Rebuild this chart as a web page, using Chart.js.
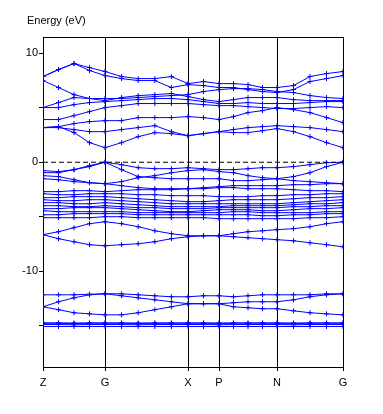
<!DOCTYPE html>
<html>
<head>
<meta charset="utf-8">
<script src="https://cdn.jsdelivr.net/npm/chart.js@4.4.1/dist/chart.umd.min.js"></script>
<style>html,body{margin:0;padding:0;background:#fff;}canvas{display:block;}</style>
</head>
<body>
<canvas id="c" width="383" height="414"></canvas>
<script>
// k-path coordinates of the sampled points
const kx = [0, 15.5, 31, 46.5, 62, 78.6, 95.2, 111.8, 128.4, 145, 160.5, 176, 190.5, 205, 219.5, 234, 250.5, 267, 283.5, 300];
const tickPos = [0, 62, 145, 176, 234, 300];
const tickNames = ['Z', 'G', 'X', 'P', 'N', 'G'];
const yTicks = [-15, -10, -5, 0, 5, 10];
const yLabelled = [10, 0, -10];

// conduction bands (eV)
const cbA = [7.87,8.51,9.06,8.69,8.33,7.87,7.68,7.68,7.87,7.22,7.41,7.22,7.22,7.13,6.86,6.86,7.04,7.87,8.14,8.33];
const cbB = [7.87,8.51,9.06,8.42,7.96,7.68,7.50,7.50,6.86,7.13,7.04,6.86,6.86,6.67,6.49,6.40,6.67,7.41,7.68,7.96];
const cbC = [7.50,6.86,6.21,5.85,5.85,5.85,5.94,6.03,6.12,6.21,6.49,6.67,6.76,6.76,6.67,6.49,6.40,6.12,5.94,5.85];
const cbD = [5.02,5.48,5.94,5.85,5.66,5.94,6.12,6.21,6.31,6.03,5.75,5.57,5.75,5.94,5.94,5.94,5.75,5.66,5.66,5.66];
const cbE = [5.02,5.02,5.29,5.48,5.57,5.66,5.75,5.85,5.85,5.75,5.57,5.39,5.39,5.48,5.39,5.39,5.39,5.48,5.57,5.57];
const cbF = [3.92,3.92,4.28,4.65,5.02,5.20,5.39,5.39,5.39,5.39,5.29,5.20,5.20,5.11,5.02,4.93,4.93,5.02,5.11,5.02];
const cbG = [3.18,3.27,3.55,3.73,3.82,3.82,4.10,4.10,4.10,4.19,4.10,3.92,4.19,4.56,4.74,5.02,4.83,4.56,4.10,3.64];
const cbH = [3.18,3.27,2.72,1.80,1.34,1.80,2.35,2.72,2.63,2.44,2.63,2.81,2.72,2.72,2.90,3.09,2.81,2.35,1.80,1.34];
const cbI = [3.18,3.18,3.00,2.81,2.81,3.00,3.18,3.36,2.81,2.44,2.63,2.81,3.00,3.18,3.27,3.36,3.27,3.18,3.00,2.81];

// upper valence bands (eV)
const vb1 = [-0.96,-0.96,-0.68,-0.31,0.00,-0.22,-0.50,-0.59,-0.59,-0.50,-0.59,-0.68,-0.68,-0.59,-0.50,-0.50,-0.40,-0.22,-0.04,0.00];
const vb2 = [-0.77,-0.86,-0.68,-0.40,0.00,-0.68,-1.32,-1.42,-1.51,-1.51,-1.51,-1.51,-1.69,-1.69,-1.60,-1.51,-1.69,-1.78,-1.88,-1.97];
const vb3 = [-1.23,-1.32,-1.60,-1.88,-1.97,-1.78,-1.42,-1.23,-0.96,-0.77,-0.68,-0.86,-0.96,-1.23,-1.42,-1.51,-1.32,-0.96,-0.40,0.00];
const vb4 = [-1.51,-1.60,-1.78,-1.88,-1.97,-2.15,-2.33,-2.43,-2.43,-2.43,-2.33,-2.24,-2.15,-2.15,-2.15,-2.15,-2.06,-2.06,-1.97,-1.97];

// valence block -2.5 .. -5 eV
const vd1 = [-2.70,-2.70,-2.61,-2.61,-2.70,-2.61,-2.52,-2.52,-2.52,-2.43,-2.43,-2.33,-2.33,-2.43,-2.43,-2.43,-2.52,-2.61,-2.61,-2.70];
const vd2 = [-2.89,-2.98,-2.98,-2.89,-2.89,-2.89,-2.98,-2.98,-3.07,-3.07,-3.07,-3.16,-3.16,-3.16,-3.07,-3.07,-2.98,-2.98,-2.89,-2.89];
const vd3 = [-3.25,-3.25,-3.16,-3.16,-3.16,-3.25,-3.35,-3.44,-3.53,-3.62,-3.62,-3.53,-3.44,-3.44,-3.44,-3.44,-3.35,-3.25,-3.25,-3.16];
const vd4 = [-3.44,-3.53,-3.53,-3.44,-3.44,-3.53,-3.62,-3.71,-3.81,-3.81,-3.81,-3.81,-3.81,-3.81,-3.81,-3.81,-3.71,-3.62,-3.53,-3.44];
const vd5 = [-3.71,-3.71,-3.81,-3.81,-3.71,-3.81,-3.90,-3.99,-4.08,-4.08,-4.08,-4.08,-3.99,-3.99,-3.99,-3.99,-3.90,-3.81,-3.81,-3.71];
const vd6 = [-3.99,-3.99,-4.08,-4.08,-3.99,-4.08,-4.17,-4.17,-4.26,-4.26,-4.26,-4.17,-4.17,-4.17,-4.17,-4.17,-4.08,-4.08,-3.99,-3.99];
const vd7 = [-4.26,-4.26,-4.17,-4.17,-4.17,-4.26,-4.36,-4.45,-4.54,-4.54,-4.45,-4.36,-4.36,-4.36,-4.45,-4.45,-4.36,-4.26,-4.26,-4.17];
const vd8 = [-4.45,-4.54,-4.54,-4.54,-4.54,-4.54,-4.63,-4.63,-4.63,-4.63,-4.63,-4.63,-4.54,-4.54,-4.63,-4.63,-4.63,-4.63,-4.54,-4.54];
const vd9 = [-4.82,-4.82,-4.72,-4.72,-4.72,-4.72,-4.82,-4.82,-4.82,-4.82,-4.82,-4.82,-4.82,-4.82,-4.91,-4.91,-4.82,-4.82,-4.72,-4.72];
const vd10 = [-5.09,-5.09,-5.09,-5.09,-5.00,-5.00,-5.09,-5.09,-5.09,-5.09,-5.09,-5.18,-5.18,-5.18,-5.18,-5.18,-5.18,-5.09,-5.09,-5.00];

// lower valence bands (eV)
const vl1 = [-6.65,-6.38,-6.01,-5.64,-5.46,-5.64,-5.92,-6.29,-6.56,-6.75,-6.75,-6.75,-6.56,-6.38,-6.29,-6.19,-6.10,-5.92,-5.64,-5.46];
const vl2 = [-6.65,-7.02,-7.30,-7.57,-7.67,-7.57,-7.48,-7.30,-7.02,-6.84,-6.75,-6.75,-6.84,-6.93,-7.02,-7.11,-7.21,-7.39,-7.57,-7.76];

// semicore bands (eV)
const sc1 = [-12.17,-12.17,-12.17,-12.12,-12.08,-12.08,-12.17,-12.26,-12.35,-12.35,-12.26,-12.26,-12.35,-12.26,-12.17,-12.17,-12.17,-12.17,-12.08,-12.08];
const sc2 = [-13.27,-12.81,-12.45,-12.17,-12.08,-12.26,-12.45,-12.63,-12.81,-12.99,-12.99,-12.99,-12.90,-12.81,-12.81,-12.81,-12.63,-12.35,-12.17,-12.08];
const sc3 = [-13.27,-13.54,-13.82,-13.92,-14.01,-14.01,-13.82,-13.54,-13.27,-12.99,-12.99,-12.99,-13.27,-13.36,-13.45,-13.45,-13.64,-13.82,-13.92,-14.01];
const sf1 = [-14.74,-14.74,-14.76,-14.74,-14.74,-14.74,-14.76,-14.74,-14.74,-14.74,-14.74,-14.76,-14.74,-14.74,-14.74,-14.74,-14.76,-14.74,-14.74,-14.74];
const sf2 = [-14.83,-14.83,-14.81,-14.83,-14.83,-14.83,-14.81,-14.83,-14.83,-14.83,-14.83,-14.81,-14.83,-14.83,-14.83,-14.83,-14.81,-14.83,-14.83,-14.83];
const sf3 = [-14.90,-14.90,-14.92,-14.90,-14.90,-14.90,-14.92,-14.90,-14.90,-14.90,-14.90,-14.92,-14.90,-14.90,-14.90,-14.90,-14.92,-14.90,-14.90,-14.90];
const sf4 = [-15.08,-15.08,-15.08,-15.08,-15.08,-15.08,-15.08,-15.08,-15.08,-15.08,-15.08,-15.08,-15.08,-15.08,-15.08,-15.08,-15.08,-15.08,-15.08,-15.08];

const bands = [cbA,cbB,cbC,cbD,cbE,cbF,cbG,cbH,cbI,vb1,vb2,vb3,vb4,vd1,vd2,vd3,vd4,vd5,vd6,vd7,vd8,vd9,vd10,vl1,vl2,sc1,sc2,sc3,sf1,sf2,sf3,sf4];
const fermi = [0, 0];
const fermiX = [0, 300];

const BLUE = '#0000ff';
const datasets = [{
  data: fermi.map((e, i) => ({x: fermiX[i], y: e})),
  borderColor: '#000', borderWidth: 1, borderDash: [5, 3], pointRadius: 0, showLine: true, fill: false
}].concat(bands.map(b => ({
  data: b.map((e, i) => ({x: kx[i], y: e})),
  borderColor: BLUE, backgroundColor: BLUE, borderWidth: 1,
  pointStyle: 'cross', pointRadius: 2.5, pointBorderWidth: 1, pointBorderColor: BLUE,
  showLine: true, fill: false, tension: 0
})));

const frame = {
  id: 'frame',
  afterDraw(chart) {
    const {ctx, chartArea: a} = chart;
    ctx.save();
    ctx.strokeStyle = '#000';
    ctx.lineWidth = 1;
    ctx.beginPath();
    ctx.moveTo(Math.round(a.left) + 0.5, Math.round(a.top) + 0.5);
    ctx.lineTo(Math.round(a.right) + 0.5, Math.round(a.top) + 0.5);
    ctx.stroke();
    ctx.fillStyle = '#000';
    ctx.font = '11px "Liberation Sans", Arial, sans-serif';
    ctx.textBaseline = 'alphabetic';
    ctx.textAlign = 'left';
    ctx.fillText('Energy (eV)', 27, 24);
    ctx.restore();
  }
};

Chart.defaults.font.family = '"Liberation Sans", Arial, sans-serif';
Chart.defaults.font.size = 11;
Chart.defaults.color = '#000';

new Chart(document.getElementById('c'), {
  type: 'scatter',
  data: {datasets},
  options: {
    responsive: false,
    animation: false,
    layout: {padding: {top: 37, right: 40, left: 0, bottom: 0}},
    plugins: {legend: {display: false}, tooltip: {enabled: false}, title: {display: false}},
    elements: {line: {tension: 0}},
    scales: {
      x: {
        type: 'linear', min: 0, max: 300,
        afterBuildTicks(s) { s.ticks = tickPos.map(v => ({value: v})); },
        afterFit(s) { s.height = 47; },
        ticks: {
          autoSkip: false, maxRotation: 0, padding: 5,
          callback(v, i) { return tickNames[i]; },
          font: {size: 11}
        },
        grid: {display: true, color: '#000', lineWidth: 1, drawOnChartArea: true, drawTicks: true, tickLength: 4},
        border: {display: true, color: '#000', width: 1}
      },
      y: {
        type: 'linear', min: -18.8, max: 11.5,
        afterBuildTicks(s) { s.ticks = yTicks.map(v => ({value: v})); },
        afterFit(s) { s.width = 43; },
        ticks: {
          autoSkip: false, padding: 1,
          callback(v) { return yLabelled.includes(v) ? String(v) : ''; },
          font: {size: 11}
        },
        grid: {display: true, color: '#000', drawOnChartArea: false, drawTicks: true, tickLength: 4},
        border: {display: true, color: '#000', width: 1}
      }
    }
  },
  plugins: [frame]
});
</script>
</body>
</html>
